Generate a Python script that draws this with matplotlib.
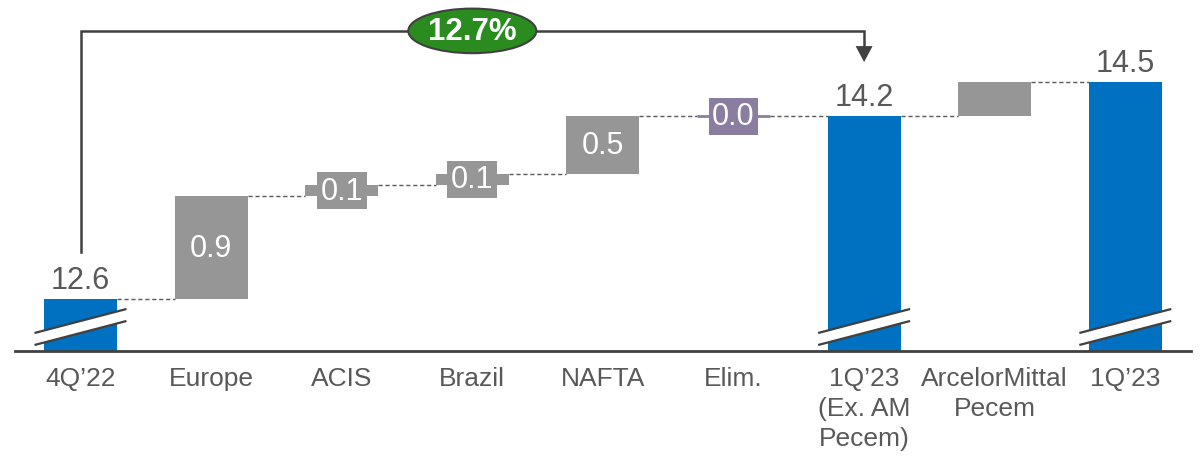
import matplotlib
matplotlib.use("Agg")
import matplotlib.pyplot as plt
import matplotlib.transforms as mtransforms
from matplotlib.patches import Ellipse, Polygon

plt.rcParams["font.family"] = ["Liberation Sans", "DejaVu Sans"]

# ---- data -------------------------------------------------------------
categories = ["4Q\u201922", "Europe", "ACIS", "Brazil", "NAFTA", "Elim.",
              "1Q\u201923\n(Ex. AM\nPecem)", "ArcelorMittal\nPecem", "1Q\u201923"]
start_value = 12.6
segment_deltas = [0.9, 0.1, 0.1, 0.5, 0.0]      # Europe, ACIS, Brazil, NAFTA, Elim.
subtotal_value = 14.2                            # 1Q'23 ex. AM Pecem
pecem_delta = 0.3
end_value = 14.5
growth_label = "12.7%"

# ---- styling ----------------------------------------------------------
BLUE = "#0070C0"
GRAY = "#969696"
PURPLE = "#8A7DA0"
GREEN = "#2A8C1E"
DARK = "#404040"
TEXT = "#595959"
BAR_W = 0.56

kinds = ["total"] + ["delta"] * len(segment_deltas) + ["total", "delta", "total"]
values = [start_value] + segment_deltas + [subtotal_value, pecem_delta, end_value]
delta_colors = [GRAY, GRAY, GRAY, GRAY, PURPLE, GRAY]
labelled = [True, True, True, True, True, False]

fig = plt.figure(figsize=(12.01, 4.6), dpi=100)
ax = fig.add_axes([0, 108 / 460, 1, 352 / 460])
ax.set_xlim(-0.6164, 8.5796)
ax.set_ylim(12.147, 15.227)
ax.axis("off")
trans = mtransforms.blended_transform_factory(ax.transData, ax.transAxes)

level = 0.0
levels = []
d = 0
for i, (kind, v) in enumerate(zip(kinds, values)):
    if kind == "total":
        ax.bar(i, v, width=BAR_W, bottom=0, color=BLUE, zorder=2)
        level = v
        ax.annotate(f"{v:.1f}", (i, v), xytext=(0, 3), textcoords="offset points",
                    ha="center", va="bottom", fontsize=22, color=TEXT)
        # axis-break marks near the baseline
        dx = 0.352
        y1a, y1b = 18 / 352, 42 / 352
        y2a, y2b = 6 / 352, 30 / 352
        ax.add_patch(Polygon([(i - dx, y1a), (i + dx, y1b), (i + dx, y2b), (i - dx, y2a)],
                             closed=True, fc="white", ec="none", transform=trans,
                             zorder=3, clip_on=False))
        for ya, yb in ((y1a, y1b), (y2a, y2b)):
            ax.plot([i - dx, i + dx], [ya, yb], transform=trans, color=DARK,
                    lw=1.6, solid_capstyle="butt", zorder=4, clip_on=False)
    else:
        col = delta_colors[d]
        ax.bar(i, v, width=BAR_W, bottom=level, color=col, edgecolor=col,
               linewidth=2 if v == 0 else 0, zorder=2)
        if labelled[d]:
            ax.text(i, level + v / 2, f"{v:.1f}", ha="center", va="center",
                    fontsize=22, color="white", zorder=3,
                    bbox=dict(boxstyle="square,pad=0.12", fc=col, ec="none"))
        level += v
        d += 1
    levels.append(level)

# dashed connectors between consecutive bars
for i in range(len(values) - 1):
    ax.plot([i + BAR_W / 2, i + 1 - BAR_W / 2], [levels[i], levels[i]],
            ls=(0, (3, 2)), color=TEXT, lw=1, zorder=1)

# growth bracket from 4Q'22 to 1Q'23 (ex. AM Pecem)
bracket_y = 14.948
ax.plot([0, 0, 6, 6], [13.013, bracket_y, bracket_y, 14.815], color=DARK, lw=1.8,
        solid_joinstyle="miter", zorder=4)
ax.add_patch(Polygon([(6 - 0.065, 14.815), (6 + 0.065, 14.815), (6, 14.675)],
                     closed=True, fc=DARK, ec="none", zorder=4))
ax.add_patch(Ellipse((3, bracket_y), width=0.98, height=0.39, fc=GREEN, ec=DARK,
                     lw=1.5, zorder=5))
ax.text(3, bracket_y, growth_label, ha="center", va="center", fontsize=22.5,
        fontweight="bold", color="white", zorder=6)

# baseline and category labels
ax.plot([-0.5, 8.5], [0, 0], transform=trans, color=DARK, lw=2, clip_on=False, zorder=5)
for i, cat in enumerate(categories):
    ax.annotate(cat, (i, 0), xycoords=("data", "axes fraction"), xytext=(0, -11),
                textcoords="offset points", ha="center", va="top", fontsize=19,
                color=TEXT, linespacing=1.32, multialignment="center")

fig.savefig("out.png", dpi=100)
